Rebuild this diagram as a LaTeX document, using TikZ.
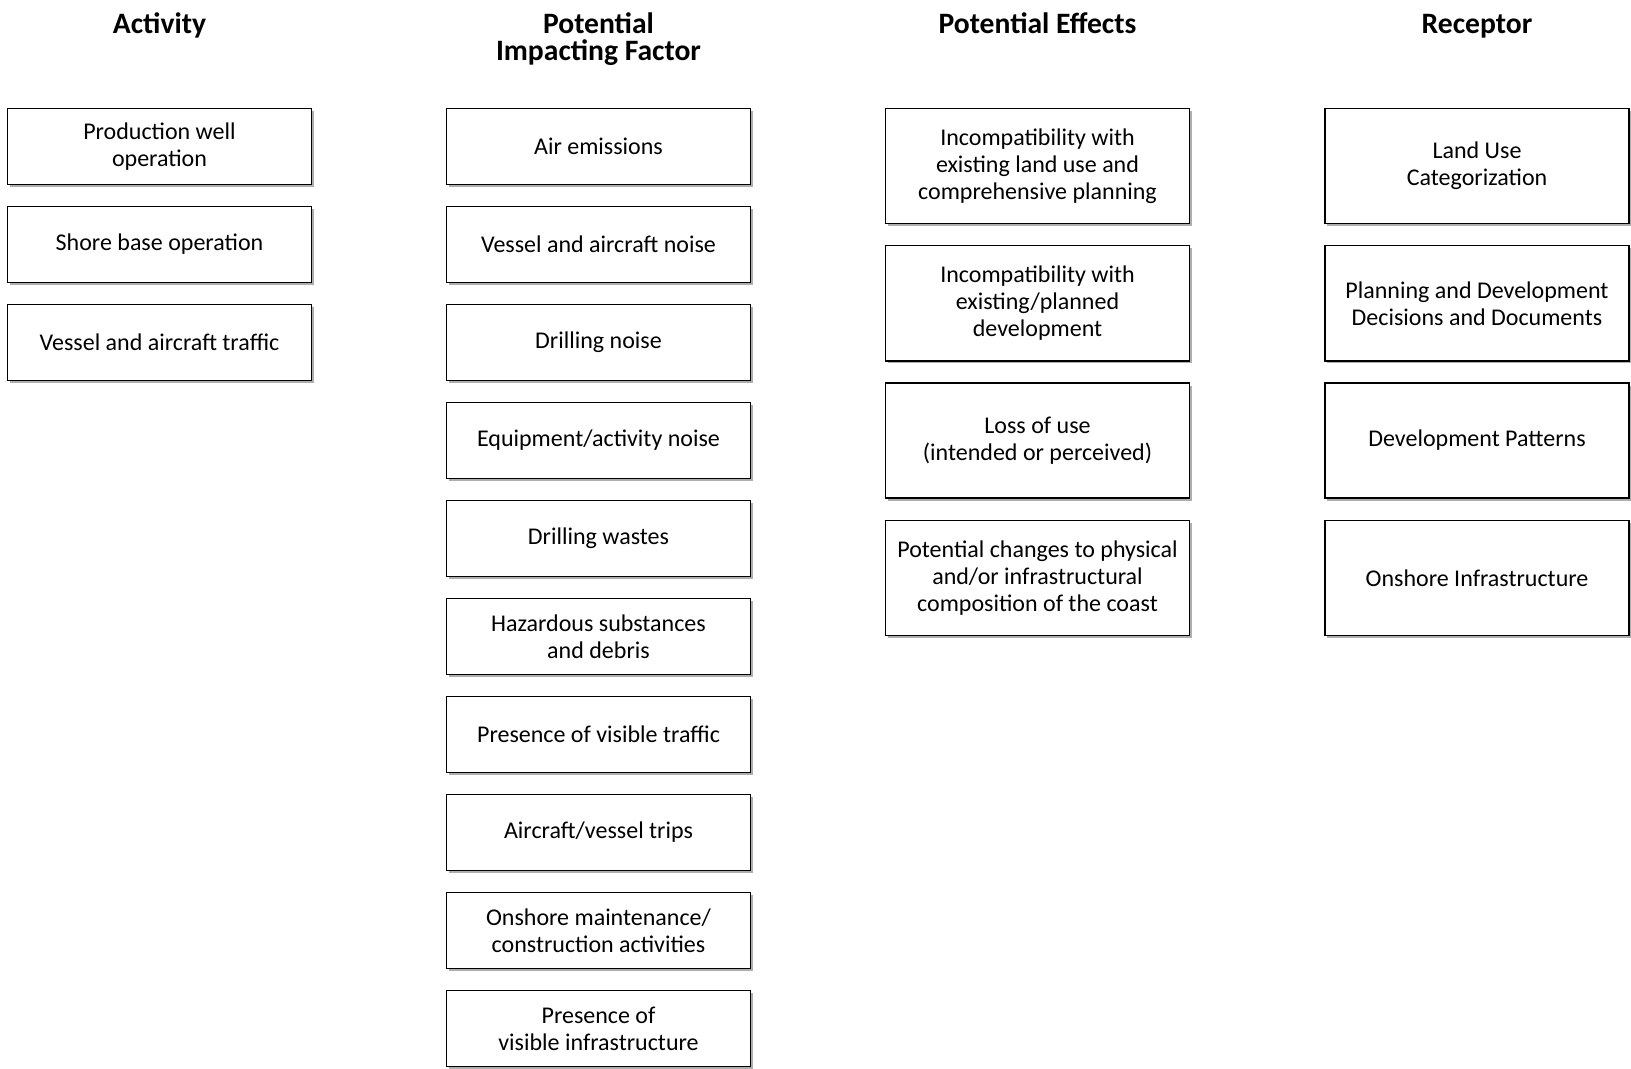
\documentclass[tikz,border=0pt]{standalone}
\usepackage{fontspec}
\setmainfont{Carlito}
\usetikzlibrary{shadows}

\begin{document}
\begin{tikzpicture}[x=0.5pt, y=-0.5pt, font=\fontsize{12}{13.5}\selectfont,
  box/.style={draw, line width=0.7pt, fill=white, align=center, inner sep=0pt,
    minimum width=152pt,
    drop shadow={shadow xshift=1.2pt, shadow yshift=-1.2pt, opacity=0.45, fill=black!70}},
  smallbox/.style={box, minimum height=38pt},
  bigbox/.style={box, minimum height=57.5pt},
  header/.style={font=\fontsize{14.8}{13.5}\selectfont\bfseries, align=center, anchor=base}]
  \useasboundingbox (0,0) rectangle (1631,1069);
  % ---- column headers ----
  \node[header] (hAct) at (159.5,34) {Activity};
  \node[header] (hPif) at (598.5,61) {Potential\\Impacting Factor};
  \node[header] (hEff) at (1037.5,34) {Potential Effects};
  \node[header] (hRec) at (1477,34) {Receptor};
  % ---- activity ----
  \foreach \txt [count=\i] in {{Production well\\operation}, Shore base operation,
      Vessel and aircraft traffic}
    \node[smallbox] (act\i) at (159.5,{146.5+98*(\i-1)}) {\txt};
  % ---- potential impacting factor ----
  \foreach \txt [count=\i] in {Air emissions, Vessel and aircraft noise, Drilling noise,
      Equipment/activity noise, Drilling wastes, {Hazardous substances\\and debris},
      Presence of visible traffic, Aircraft/vessel trips,
      {Onshore maintenance/\\construction activities},
      {Presence of\\visible infrastructure}}
    \node[smallbox] (pif\i) at (598.5,{146.5+98*(\i-1)}) {\txt};
  % ---- potential effects ----
  \foreach \txt [count=\i] in {{Incompatibility with\\existing land use and\\comprehensive planning},
      {Incompatibility with\\existing/planned\\development},
      {Loss of use\\(intended or perceived)},
      {Potential changes to physical\\and/or infrastructural\\composition of the coast}}
    \node[bigbox] (eff\i) at (1037.5,{166+137.3*(\i-1)}) {\txt};
  % ---- receptor ----
  \foreach \txt [count=\i] in {{Land Use\\Categorization},
      {Planning and Development\\Decisions and Documents},
      Development Patterns, Onshore Infrastructure}
    \node[bigbox] (rec\i) at (1477,{166+137.3*(\i-1)}) {\txt};
\end{tikzpicture}
\end{document}
